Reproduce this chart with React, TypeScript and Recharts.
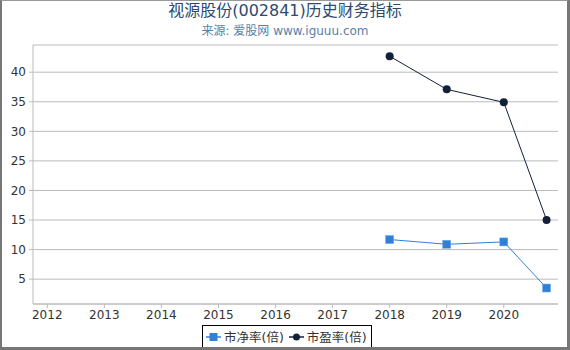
import React from 'react';
import { LineChart, Line, XAxis, YAxis, CartesianGrid } from 'recharts';

const periods = [2018, 2019, 2020, 2020.75];
const pbValues = [11.7, 10.9, 11.3, 3.5];
const peValues = [42.7, 37.1, 34.9, 15.0];
const xTicks = [2012, 2013, 2014, 2015, 2016, 2017, 2018, 2019, 2020];
const yTicks = [5, 10, 15, 20, 25, 30, 35, 40];
const seriesNames = ['市净率(倍)', '市盈率(倍)'];
const title = '视源股份(002841)历史财务指标';
const subtitle = '来源: 爱股网 www.iguuu.com';

const PB_COLOR = '#2f80d9';
const PE_COLOR = '#12203a';
const FONT = '"DejaVu Sans", "Noto Sans CJK SC", sans-serif';

const data = periods.map((p, i) => ({ x: p, pb: pbValues[i], pe: peValues[i] }));

const SquareDot = (props: any) => {
  const { cx, cy } = props;
  if (cx == null || cy == null) return null;
  return <rect x={cx - 4} y={cy - 4} width={8} height={8} fill={PB_COLOR} stroke="#6aa8ec" strokeWidth={0.5} />;
};

const CircleDot = (props: any) => {
  const { cx, cy } = props;
  if (cx == null || cy == null) return null;
  return <circle cx={cx} cy={cy} r={4} fill={PE_COLOR} />;
};

export default function App() {
  return (
    <div
      style={{
        position: 'absolute',
        left: 0,
        top: 0,
        width: 570,
        height: 350,
        boxSizing: 'border-box',
        borderLeft: '2px solid #777',
        borderTop: '1px solid #999',
        borderRight: '3px solid #777',
        borderBottom: '3px solid #777',
        background: '#fff',
        overflow: 'hidden',
      }}
    >
      <div
        style={{
          position: 'absolute',
          left: -2,
          top: 0,
          width: 570,
          textAlign: 'center',
          fontFamily: FONT,
          fontSize: 16,
          color: '#2c4a70',
          lineHeight: '20px',
        }}
      >
        {title}
      </div>
      <div
        style={{
          position: 'absolute',
          left: -2,
          top: 21,
          width: 570,
          textAlign: 'center',
          fontFamily: FONT,
          fontSize: 12,
          color: '#5a7fa8',
          lineHeight: '18px',
        }}
      >
        {subtitle}
      </div>
      <div style={{ position: 'absolute', left: -2, top: -1 }}>
        <LineChart
          width={570}
          height={350}
          data={data}
          margin={{ top: 45, right: 12, bottom: 16, left: 0 }}
        >
          <CartesianGrid horizontal={true} vertical={false} stroke="#bbb" />
          <XAxis
            dataKey="x"
            type="number"
            domain={[2011.75, 2020.95]}
            ticks={xTicks}
            allowDataOverflow
            stroke="#bbb"
            tickSize={4}
            tickMargin={2}
            tick={{ fill: '#333', fontSize: 12, fontFamily: FONT }}
            tickLine={{ stroke: '#bbb' }}
            height={30}
          />
          <YAxis
            type="number"
            domain={[0.8, 44.6]}
            ticks={yTicks}
            allowDataOverflow
            width={33}
            stroke="#bbb"
            tickSize={4}
            tickMargin={3}
            tick={{ fill: '#333', fontSize: 12, fontFamily: FONT }}
          />
          <Line
            type="linear"
            dataKey="pb"
            name={seriesNames[0]}
            stroke={PB_COLOR}
            strokeWidth={1}
            dot={<SquareDot />}
            activeDot={false}
            isAnimationActive={false}
          />
          <Line
            type="linear"
            dataKey="pe"
            name={seriesNames[1]}
            stroke={PE_COLOR}
            strokeWidth={1}
            dot={<CircleDot />}
            activeDot={false}
            isAnimationActive={false}
          />
        </LineChart>
      </div>
      <div
        style={{
          position: 'absolute',
          left: 200,
          top: 324,
          height: 23,
          boxSizing: 'border-box',
          display: 'flex',
          alignItems: 'center',
          border: '1px solid #000',
          padding: '0 4px 0 3px',
          fontFamily: FONT,
          fontSize: 12.5,
          color: '#333',
          background: '#fff',
        }}
      >
        <svg width={15} height={10} style={{ marginRight: 3 }}>
          <line x1={0} y1={5} x2={15} y2={5} stroke={PB_COLOR} strokeWidth={1.5} />
          <rect x={3.5} y={1} width={8} height={8} fill={PB_COLOR} />
        </svg>
        <span style={{ marginRight: 5 }}>{seriesNames[0]}</span>
        <svg width={15} height={10} style={{ marginRight: 3 }}>
          <line x1={0} y1={5} x2={15} y2={5} stroke={PE_COLOR} strokeWidth={1.5} />
          <circle cx={7.5} cy={5} r={3.5} fill={PE_COLOR} />
        </svg>
        <span>{seriesNames[1]}</span>
      </div>
    </div>
  );
}
